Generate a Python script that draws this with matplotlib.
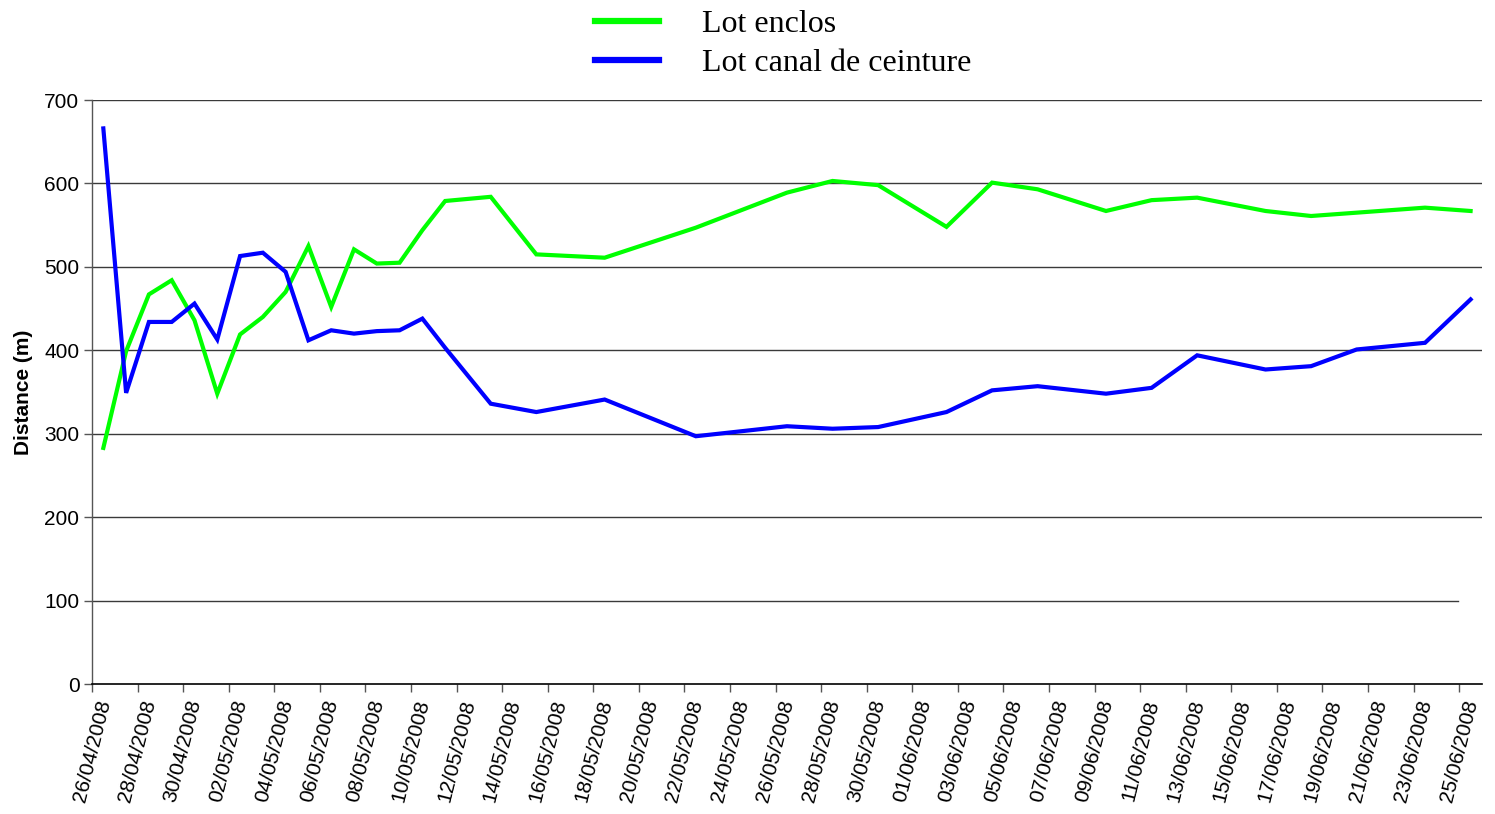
import numpy as np
import pandas as pd
import matplotlib
matplotlib.use("Agg")
import matplotlib.pyplot as plt
import matplotlib.dates as mdates

plt.rcParams['font.family'] = ['Liberation Sans', 'DejaVu Sans']

# dates des relevés (jj/mm/aaaa)
dates = ["26/04/2008", "27/04/2008", "28/04/2008", "29/04/2008", "30/04/2008",
         "01/05/2008", "02/05/2008", "03/05/2008", "04/05/2008", "05/05/2008",
         "06/05/2008", "07/05/2008", "08/05/2008", "09/05/2008", "10/05/2008",
         "11/05/2008", "13/05/2008", "15/05/2008", "18/05/2008", "22/05/2008",
         "26/05/2008", "28/05/2008", "30/05/2008", "02/06/2008", "04/06/2008",
         "06/06/2008", "09/06/2008", "11/06/2008", "13/06/2008", "16/06/2008",
         "18/06/2008", "20/06/2008", "23/06/2008", "25/06/2008"]

# distances (m)
lot_enclos = [283, 399, 467, 484, 436, 348, 419, 440, 470, 525,
              452, 521, 504, 505, 544, 579, 584, 515, 511, 547,
              589, 603, 598, 548, 601, 593, 567, 580, 583, 567,
              561, 565, 571, 567]
lot_canal = [666, 349, 434, 434, 456, 413, 513, 517, 494, 412,
             424, 420, 423, 424, 438, 403, 336, 326, 341, 297,
             309, 306, 308, 326, 352, 357, 348, 355, 394, 377,
             381, 401, 409, 461]

y_ticks = [0, 100, 200, 300, 400, 500, 600, 700]

# Excel place les points au milieu de la journée
x = pd.to_datetime(dates, dayfirst=True) + pd.Timedelta(hours=12)
start = pd.Timestamp("2008-04-26")
end = pd.Timestamp("2008-06-26")
ticks = pd.date_range(start, "2008-06-25", freq="2D")

fig = plt.figure(figsize=(14.95, 8.14), dpi=100)
ax = fig.add_axes([0.0615, 0.1597, 0.9298, 0.7174])

for yv in y_ticks[1:]:
    xmax = 0.983 if yv == 100 else 1.0
    ax.axhline(yv, xmax=xmax, color="#3a3a3a", lw=1.0, zorder=1)

l1, = ax.plot(x, lot_enclos, color="#00ff00", lw=3.0, zorder=3, solid_joinstyle="miter")
l2, = ax.plot(x, lot_canal, color="#0000ff", lw=3.0, zorder=3, solid_joinstyle="miter")

ax.set_xlim(start, end)
ax.set_ylim(0, 700)
ax.set_yticks(y_ticks)
ax.set_xticks(ticks)
ax.xaxis.set_major_formatter(mdates.DateFormatter("%d/%m/%Y"))
plt.setp(ax.get_xticklabels(), rotation=76, ha="center")
ax.tick_params(axis="both", labelsize=15, length=6, width=1, color="#555555", direction="out")
ax.tick_params(axis="x", pad=4)
ax.tick_params(axis="y", pad=3)

for s in ["top", "right"]:
    ax.spines[s].set_visible(False)
ax.spines["left"].set_color("#555555")
ax.spines["bottom"].set_color("black")
ax.spines["left"].set_linewidth(1.0)
ax.spines["bottom"].set_linewidth(1.2)

ax.set_ylabel("Distance (m)", fontsize=15, fontweight="bold", labelpad=8)

fig.legend([l1, l2], ["Lot enclos", "Lot canal de ceinture"],
           loc="upper left", bbox_to_anchor=(595 / 1495, 0.988),
           frameon=False, prop={"family": "Liberation Serif", "size": 23},
           handlelength=2.0, handletextpad=1.35, labelspacing=0.3,
           borderpad=0.0, borderaxespad=0.0)
for h in fig.legends[0].legend_handles:
    h.set_linewidth(4.5)

fig.savefig("out.png", dpi=100)
